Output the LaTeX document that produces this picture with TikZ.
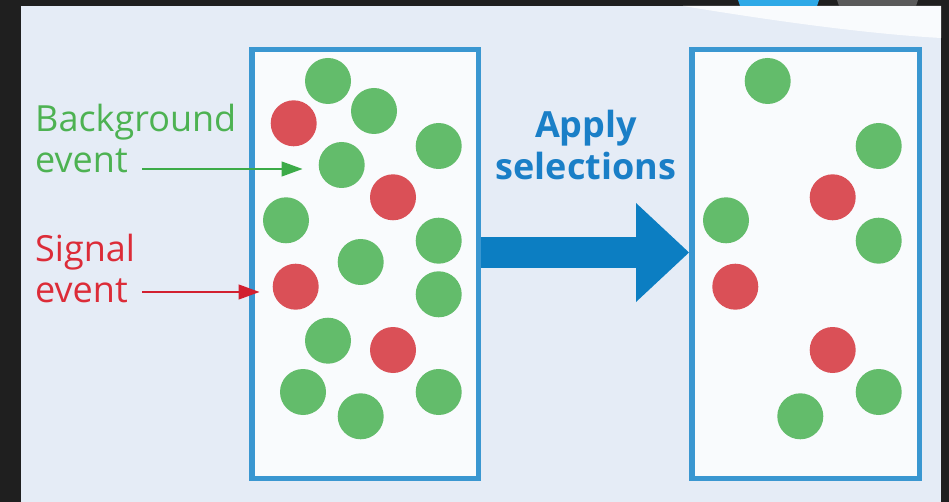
\documentclass[tikz,border=0pt]{standalone}
\usepackage{fontspec}
\setmainfont{Open Sans}
\usetikzlibrary{arrows.meta, calc}
\definecolor{evGreen}{HTML}{63BC6B}
\definecolor{evRed}{HTML}{DA5057}
\definecolor{boxBlue}{HTML}{3A97D1}
\definecolor{arrBlue}{HTML}{0C7EC2}
\definecolor{txtBlue}{HTML}{1A7FC7}
\definecolor{bgPale}{HTML}{E5ECF6}
\definecolor{boxFill}{HTML}{F9FBFD}
\definecolor{frameDark}{HTML}{1F1F1F}
\definecolor{tabBlue}{HTML}{2EA9E7}
\definecolor{tabGray}{HTML}{5A5A5A}
\definecolor{lblGreen}{HTML}{4DB252}
\definecolor{lblRed}{HTML}{DC2C38}
\definecolor{pinGreen}{HTML}{3CAB48}
\definecolor{pinRed}{HTML}{D22030}

\begin{document}
\begin{tikzpicture}[x=1pt,y=-1pt,
  bgev/.style={circle,fill=evGreen,minimum size=46pt,inner sep=0pt},
  sigev/.style={circle,fill=evRed,minimum size=46pt,inner sep=0pt},
  selbox/.style={draw=boxBlue,line width=5.5pt,fill=boxFill,inner sep=0pt},
  lbl/.style={font=\fontsize{36}{41}\selectfont,inner sep=0pt,align=left,anchor=south west},
  pin/.style={line width=1.3pt,-{Triangle[length=21pt,width=15pt]}}]
  \useasboundingbox (0,0) rectangle (949,502);
  % frame and page
  \fill[frameDark] (0,0) rectangle (949,502);
  \fill[bgPale] (21,6) rectangle (941,502);
  \fill[boxFill] (683,6) .. controls (780,22) and (870,34) .. (941,38) -- (941,6) -- cycle;
  \fill[tabBlue] (738,0) -- (819,0) -- (817,6) -- (740,6) -- cycle;
  \fill[tabGray] (837,0) -- (918,0) -- (916,6) -- (839,6) -- cycle;
  % the two samples
  \node[selbox,minimum width=226.5pt,minimum height=428.5pt] (before) at (365,264) {};
  \node[selbox,minimum width=227.5pt,minimum height=428.5pt] (after) at (805.5,264) {};
  % events before the selection
  \foreach \cx/\cy in {328/81,374/111,438.7/146,286/220.3,438.7/240.7,360.7/262,
                       438.7/294.3,328/340.7,303/392,438.7/392,360.7/416.3}
    \node[bgev] at (\cx,\cy) {};
  \foreach \cx/\cy in {293.7/123.3,393/197.3,393/350}
    \node[sigev] at (\cx,\cy) {};
  \node[bgev] (bgpick) at (341.7,165) {};
  \node[sigev] (sigpick) at (295.7,286.7) {};
  % events after the selection
  \foreach \cx/\cy in {767.7/81,878.7/146,726/220.3,878.7/240.7,878.7/392,800.3/416.3}
    \node[bgev] at (\cx,\cy) {};
  \foreach \cx/\cy in {832.7/197.3,735.3/286.7,832.7/350}
    \node[sigev] at (\cx,\cy) {};
  % big arrow
  \draw[arrBlue,line width=31pt,
        -{Triangle[length=53pt,width=99pt,line width=0pt]}]
    ([yshift=11.5pt]before.east) -- ([yshift=11.5pt]after.west);
  \node[font=\bfseries\fontsize{36}{42}\selectfont,text=txtBlue,align=center,anchor=base]
    (applytxt) at (586,180) {Apply\\selections};
  % labels
  \node[lbl,text=lblGreen] (bglbl) at (35,173) {Background\\event};
  \node[lbl,text=lblRed] (siglbl) at (35,303) {Signal\\event};
  \coordinate (bgfrom) at ($(bglbl.south west)+(107,-4)$);
  \coordinate (sigfrom) at ($(siglbl.south west)+(107,-11)$);
  \draw[pin,pinGreen,shorten >=16pt] (bgfrom) -- (bgfrom -| bgpick.west);
  \draw[pin,pinRed,shorten >=13pt] (sigfrom) -- (sigfrom -| sigpick.west);
\end{tikzpicture}
\end{document}
